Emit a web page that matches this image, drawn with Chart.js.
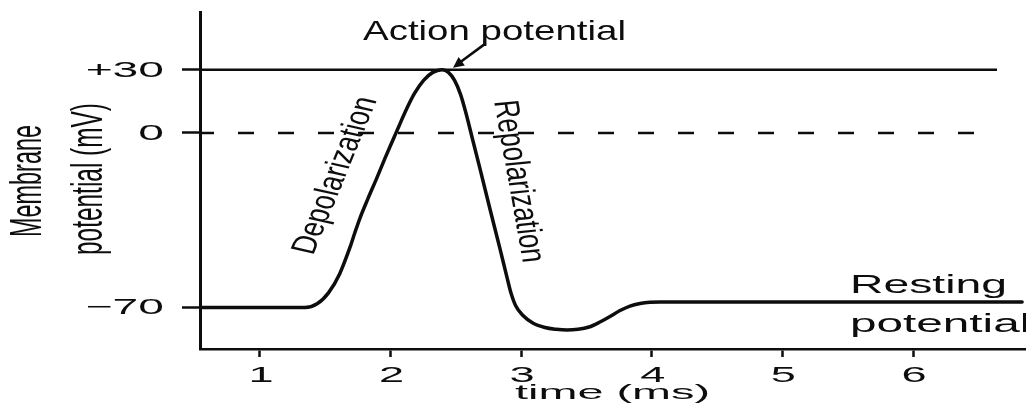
<!DOCTYPE html>
<html><head><meta charset="utf-8">
<script src="https://cdn.jsdelivr.net/npm/chart.js@4/dist/chart.umd.min.js"></script>
<style>html,body{margin:0;padding:0;background:#fff;}canvas{display:block;}</style>
</head><body>
<canvas id="c" width="1026" height="418"></canvas>
<script>
// ---- data ----
const timeMs = [0.541, 1.230, 1.345, 1.438, 1.526, 1.610, 1.689, 1.727, 1.766, 1.827, 1.896, 1.957, 2.018,
  2.064, 2.110, 2.182, 2.253, 2.323, 2.394, 2.443, 2.490, 2.535, 2.577, 2.631, 2.685, 2.761, 2.838, 2.891,
  2.922, 2.958, 3.014, 3.089, 3.182, 3.267, 3.351, 3.435, 3.519, 3.603, 3.680, 3.757, 3.833, 3.910, 3.986,
  4.063, 6.835];
const potentialMv = [-70, -70, -70, -68.5, -64.0, -56.5, -45.9, -39.9, -34.1, -26.3, -17.9, -10.2, -2.8,
  3.2, 9.7, 18.6, 24.9, 28.7, 30.0, 28.7, 24.9, 18.4, 9.5, -3.2, -14.4, -30.5, -46.5, -57.8,
  -64.2, -69.3, -73.2, -76.2, -78.0, -78.7, -79.0, -78.7, -77.8, -75.8, -73.6, -71.2, -69.4, -68.4, -67.9,
  -67.8, -67.8];
const xTickValues = [1, 2, 3, 4, 5, 6];
const xTickLabels = ['1', '2', '3', '4', '5', '6'];
const yTickValues = [-70, 0, 30];
const yTickLabels = ['\u221270', '0', '+30'];
const peakLine = [[0.541, 30], [6.643, 30]];
const zeroLine = [[0.541, 0], [6.49, 0]];
const xRange = [0.541, 6.865];
const yRange = [-86.6, 57.3];
const peakTime = 2.394, peakMv = 30;

// schematic (non-linear) potential axis: value -> fraction of axis height
const Y_KNOTS = [[-86.6, 0], [-70, 0.123], [0, 0.641], [30, 0.829], [57.3, 1]];
class PiecewiseScale extends Chart.LinearScale {
  static id = 'piecewise';
  static defaults = Chart.LinearScale.defaults;
  _dec(v) {
    const k = Y_KNOTS; let i = 0;
    while (i < k.length - 2 && v > k[i + 1][0]) i++;
    const [v0, d0] = k[i], [v1, d1] = k[i + 1];
    return d0 + (v - v0) * (d1 - d0) / (v1 - v0);
  }
  getPixelForValue(v) {
    if (v === null || v === undefined || isNaN(v)) return NaN;
    return this.getPixelForDecimal(this._dec(v));
  }
  getValueForPixel(p) {
    const d = this.getDecimalForPixel(p), k = Y_KNOTS; let i = 0;
    while (i < k.length - 2 && d > k[i + 1][1]) i++;
    const [v0, d0] = k[i], [v1, d1] = k[i + 1];
    return v0 + (d - d0) * (v1 - v0) / (d1 - d0);
  }
}
Chart.register(PiecewiseScale);

const FONT = '"Liberation Sans", Arial, Helvetica, sans-serif';
const INK = '#0d0d0d';
function label(ctx, text, o) {
  ctx.save();
  ctx.font = o.f + 'px ' + FONT;
  ctx.fillStyle = INK;
  const w = ctx.measureText(text).width;
  const sx = o.sx || 1;
  let phi = 0, a = o.a || 1;
  if (o.dx !== undefined) {
    phi = Math.atan2(o.dy, o.dx / sx);
    a = Math.hypot(o.dx / sx, o.dy) / w;
  }
  ctx.translate(o.x, o.y);
  ctx.scale(sx, 1);
  ctx.rotate(phi);
  ctx.scale(a, 1);
  ctx.textAlign = o.align || 'center';
  ctx.textBaseline = 'alphabetic';
  ctx.fillText(text, 0, 0.358 * o.f);
  ctx.restore();
  return a;
}

const annotations = {
  id: 'annotations',
  afterDraw(chart) {
    const ctx = chart.ctx, xs = chart.scales.x, ys = chart.scales.y;
    // tick labels
    yTickValues.forEach((v, i) => label(ctx, yTickLabels[i], {x: 164, y: ys.getPixelForValue(v) - 1, f: 22, sx: 2.1, align: 'right'}));
    xTickValues.forEach((v, i) => label(ctx, xTickLabels[i], {x: xs.getPixelForValue(v) + 1, y: 374, f: 21.5, sx: 2.1}));
    // axis titles
    label(ctx, 'time (ms)', {x: 612.5, y: 392, f: 20.5, dx: 195, dy: 0});
    label(ctx, 'Membrane', {x: 25, y: 181, f: 23, sx: 1.95, dx: 0, dy: -112});
    label(ctx, 'potential (mV)', {x: 86, y: 179, f: 23, sx: 1.95, dx: 0, dy: -152});
    // curve annotations
    label(ctx, 'Action potential', {x: 494.5, y: 30, f: 28, dx: 263, dy: 0});
    label(ctx, 'Depolarization', {x: 333, y: 175, f: 26, sx: 1.35, dx: 64, dy: -156});
    label(ctx, 'Repolarization', {x: 521, y: 181, f: 26, sx: 1.35, dx: 29, dy: 162});
    const aRest = label(ctx, 'Resting', {x: 928.5, y: 284, f: 25, dx: 157, dy: 0});
    label(ctx, 'potential', {x: 850, y: 323, f: 25, a: aRest * 1.03, align: 'left'});
    // arrow to the peak
    const px = xs.getPixelForValue(peakTime), py = ys.getPixelForValue(peakMv);
    const tip = [px + 11, py - 2], tail = [px + 42, py - 25];
    const ang = Math.atan2(tip[1] - tail[1], tip[0] - tail[0]);
    ctx.save();
    ctx.strokeStyle = INK; ctx.fillStyle = INK; ctx.lineWidth = 2.5;
    ctx.beginPath(); ctx.moveTo(tail[0], tail[1]);
    ctx.lineTo(tip[0] - 8 * Math.cos(ang), tip[1] - 8 * Math.sin(ang)); ctx.stroke();
    ctx.beginPath(); ctx.moveTo(tip[0], tip[1]);
    ctx.lineTo(tip[0] - 12 * Math.cos(ang - 0.45), tip[1] - 12 * Math.sin(ang - 0.45));
    ctx.lineTo(tip[0] - 12 * Math.cos(ang + 0.45), tip[1] - 12 * Math.sin(ang + 0.45));
    ctx.closePath(); ctx.fill();
    ctx.restore();
  }
};

const toXY = (xsArr, ysArr) => xsArr.map((x, i) => ({x, y: ysArr[i]}));

new Chart(document.getElementById('c'), {
  type: 'line',
  data: {
    datasets: [
      {data: peakLine.map(p => ({x: p[0], y: p[1]})), borderColor: INK, borderWidth: 2.5, pointRadius: 0},
      {data: zeroLine.map(p => ({x: p[0], y: p[1]})), borderColor: INK, borderWidth: 2.5, pointRadius: 0,
        borderDash: [16, 24], borderDashOffset: 2},
      {data: toXY(timeMs, potentialMv), borderColor: INK, borderWidth: 3.5, pointRadius: 0,
        cubicInterpolationMode: 'monotone', borderJoinStyle: 'round', borderCapStyle: 'round'}
    ]
  },
  options: {
    responsive: false, animation: false, events: [],
    devicePixelRatio: 1,
    layout: {padding: {top: 12, left: 0, right: 0, bottom: 0}},
    plugins: {legend: {display: false}, tooltip: {enabled: false}},
    scales: {
      x: {
        type: 'linear', min: xRange[0], max: xRange[1],
        afterBuildTicks: s => { s.ticks = xTickValues.map(v => ({value: v})); },
        afterFit: s => { s.height = 69; },
        ticks: {display: false},
        grid: {drawOnChartArea: false, drawTicks: true, tickLength: 8, tickWidth: 2.5, tickColor: INK},
        border: {display: true, color: INK, width: 2.5}
      },
      y: {
        type: 'piecewise', min: yRange[0], max: yRange[1],
        afterBuildTicks: s => { s.ticks = yTickValues.map(v => ({value: v})); },
        afterFit: s => { s.width = 200; },
        ticks: {display: false},
        grid: {drawOnChartArea: false, drawTicks: true, tickLength: 18, tickWidth: 2.5, tickColor: INK},
        border: {display: true, color: INK, width: 3}
      }
    }
  },
  plugins: [annotations]
});
</script>
</body></html>
